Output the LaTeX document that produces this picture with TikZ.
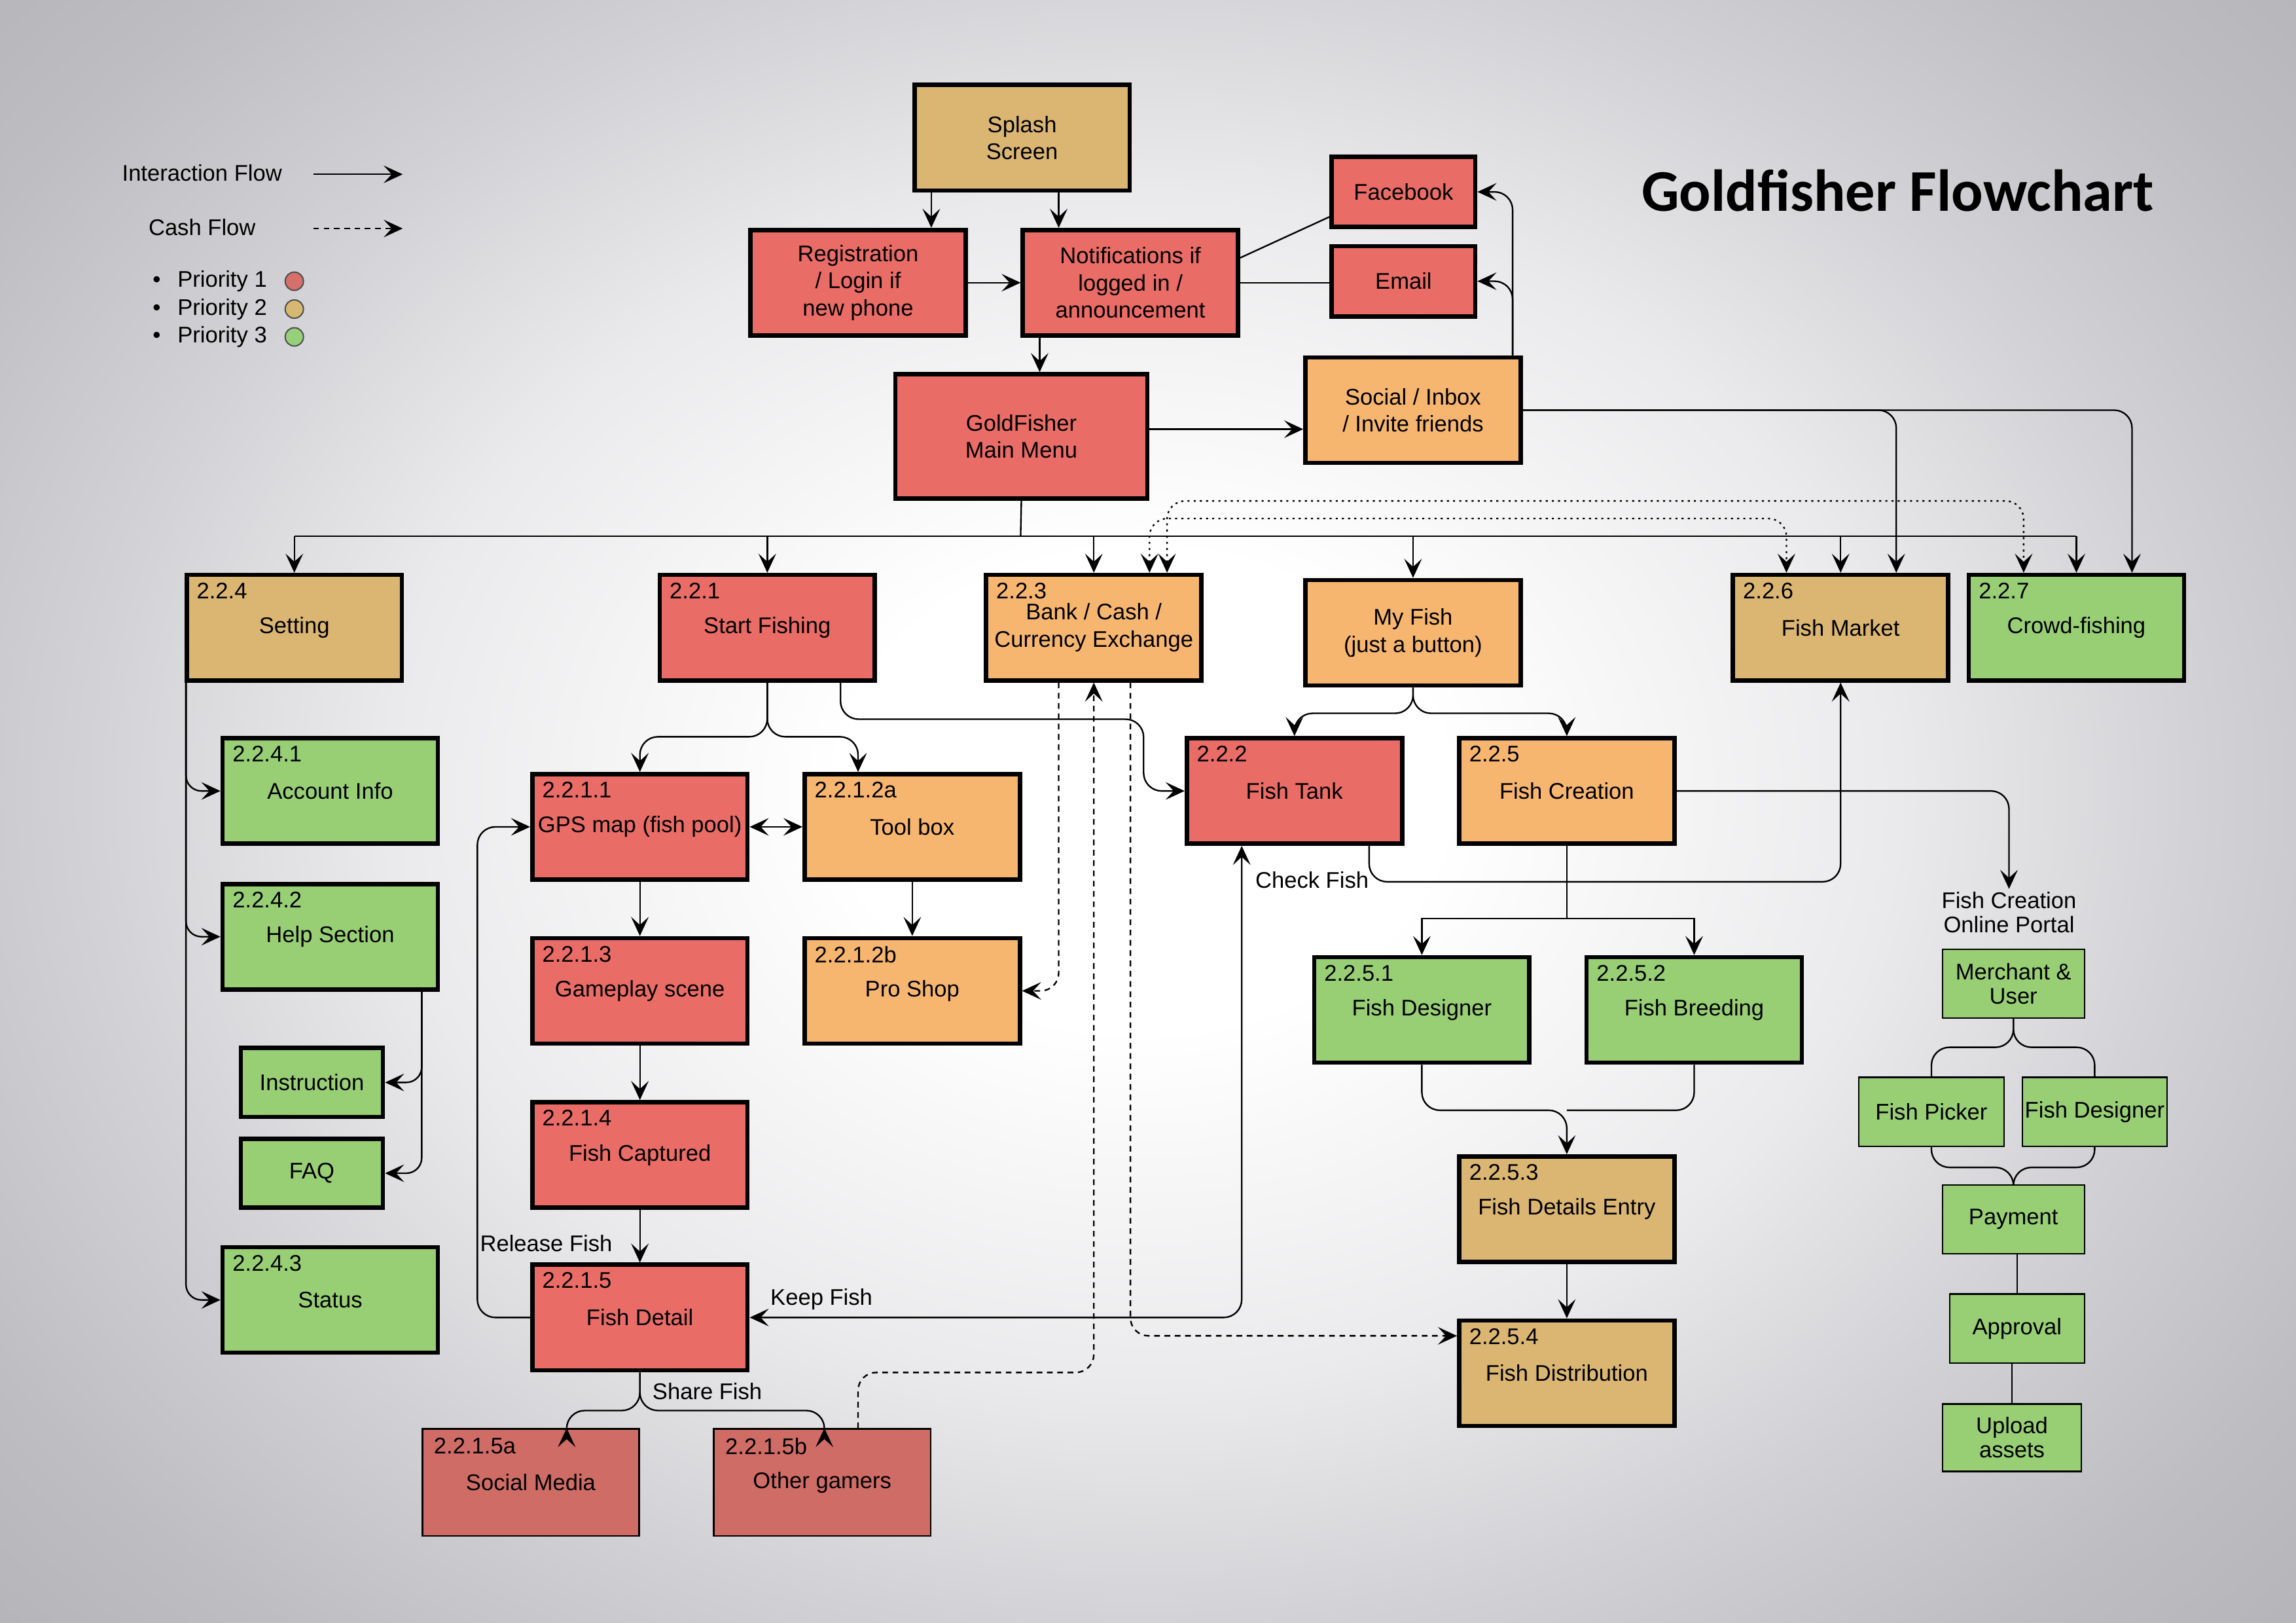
\documentclass[tikz,border=0pt]{standalone}
\usepackage{fontspec}
\setmainfont{Liberation Sans}
\newfontfamily\headfont{Carlito}
\usetikzlibrary{positioning, arrows.meta}

\definecolor{pone}{RGB}{234,108,102}
\definecolor{ptwo}{RGB}{219,182,114}
\definecolor{pmid}{RGB}{247,182,112}
\definecolor{pthree}{RGB}{152,207,117}
\definecolor{psoc}{RGB}{208,108,102}
\definecolor{lgone}{RGB}{214,112,106}
\definecolor{lgtwo}{RGB}{214,184,112}
\definecolor{lgthree}{RGB}{150,208,122}
\definecolor{bgA}{RGB}{234,234,236}
\definecolor{bgB}{RGB}{210,210,214}
\definecolor{bgC}{RGB}{190,190,194}
\definecolor{bgD}{RGB}{176,176,181}

\pgfdeclareradialshading{bgshade}{\pgfpoint{0bp}{0bp}}{color(0bp)=(white); color(6bp)=(white); color(15bp)=(bgA); color(21bp)=(bgB); color(27bp)=(bgC); color(33bp)=(bgD); color(50bp)=(bgD)}

\newcommand\cellfont{\fontsize{8.8}{10.5}\selectfont}
\newcommand\flowtitle{\headfont\bfseries\fontsize{23}{27}\selectfont}

\begin{document}
\begin{tikzpicture}[x=0.2mm, y=-0.2mm,
    >={Stealth[length=2.6mm, width=2.4mm, inset=1.1mm]},
    box/.style={draw, rectangle, line width=1.7pt,
                minimum width=29.4mm, minimum height=14.4mm,
                font=\cellfont, align=center, inner sep=1pt},
    redbox/.style={box, fill=pone},
    tanbox/.style={box, fill=ptwo},
    orbox/.style={box, fill=pmid},
    grbox/.style={box, fill=pthree},
    mini/.style={minimum width=19.6mm, minimum height=9.6mm},
    flat/.style={box, line width=0.6pt, fill=psoc,
                 minimum width=29.6mm, minimum height=14.6mm},
    portal/.style={draw, rectangle, line width=0.6pt, fill=pthree,
                   minimum width=19.4mm, minimum height=9.4mm,
                   font=\cellfont, align=center, inner sep=1pt},
    tag/.style={anchor=north west, inner sep=0pt, font=\cellfont,
                xshift=1.6mm, yshift=-1.3mm},
    lbl/.style={font=\cellfont, inner sep=1pt, align=center},
    dot/.style={circle, draw=black!70, line width=0.5pt,
                minimum size=2.5mm, inner sep=0pt},
    link/.style={line width=0.6pt},
    arrow/.style={->, line width=0.6pt},
    cash/.style={arrow, dash pattern=on 2.2pt off 1.8pt},
    cashdot/.style={<->, line width=0.6pt, dash pattern=on 0.8pt off 1.6pt}]

  % background
  \begin{scope}
    \clip (0,0) rectangle (1568,1108);
    \shade[shading=bgshade] (-80,-140) rectangle (1640,1220);
  \end{scope}
  \useasboundingbox (0,0) rectangle (1568,1108);

  % legend
  \node[lbl] (lint) at (138,118) {Interaction Flow};
  \node[lbl] (lcash) at (138,155) {Cash Flow};
  \coordinate (lia) at (214,119);
  \coordinate (lib) at (275,119);
  \coordinate (lca) at (214,156);
  \coordinate (lcb) at (275,156);
  \draw[arrow] (lia) -- (lib);
  \draw[cash] (lca) -- (lcb);
  \node[lbl, anchor=west, inner sep=0pt] (pr1) at (104,192) {\textbullet\hspace{2.3mm}Priority 1};
  \node[lbl, anchor=west, inner sep=0pt] (pr2) at (104,211) {\textbullet\hspace{2.3mm}Priority 2};
  \node[lbl, anchor=west, inner sep=0pt] (pr3) at (104,230) {\textbullet\hspace{2.3mm}Priority 3};
  \node[dot, fill=lgone] (d1) at (201,192) {};
  \node[dot, fill=lgtwo] (d2) at (201,211) {};
  \node[dot, fill=lgthree] (d3) at (201,230) {};

  \node (title) at (1296,130) {\flowtitle Goldfisher Flowchart};

  % top of the flow
  \node[tanbox] (splash) at (698,94) {Splash\\Screen};
  \node[redbox] (reg) at (586,193) {Registration\\/ Login if\\new phone};
  \node[redbox] (notif) at (772,193) {Notifications if\\logged in /\\announcement};
  \node[redbox, mini] (fb) at (958.5,131) {Facebook};
  \node[redbox, mini, below=2mm of fb] (email) {Email};
  \node[redbox, minimum width=34.4mm, minimum height=17mm] (menu) at (697.5,298) {GoldFisher\\Main Menu};
  \node[orbox] (social) at (965,280) {Social / Inbox\\/ Invite friends};

  \draw[arrow] (636,0 |- splash.south) -- (636,0 |- reg.north);
  \draw[arrow] (723,0 |- splash.south) -- (723,0 |- notif.north);
  \draw[arrow] (reg) -- (notif);
  \draw[link] (notif.east |- 0,176) -- (fb.west |- 0,148);
  \draw[link] (notif.east) -- (notif.east -| email.west);
  \draw[arrow] (710,0 |- notif.south) -- (710,0 |- menu.north);
  \draw[arrow] (menu.east |- 0,293) -- (social.west |- 0,293);
  \draw[arrow, rounded corners=7] (1033,0 |- social.north) |- (fb.east);
  \draw[arrow, rounded corners=7] (1033,0 |- social.north) |- (email.east);

  % main menu row
  \node[tanbox, label={[tag]north west:2.2.4}] (setting) at (201,428.5) {Setting};
  \node[redbox, label={[tag]north west:2.2.1}] (start) at (524,428.5) {Start Fishing};
  \node[orbox, label={[tag]north west:2.2.3}] (bank) at (747,428.5) {Bank / Cash /\\Currency Exchange};
  \node[orbox] (myfish) at (965,432) {My Fish\\(just a button)};
  \node[tanbox, label={[tag]north west:2.2.6}] (market) at (1257,428.5) {Fish Market};
  \node[grbox, label={[tag]north west:2.2.7}] (crowd) at (1418,428.5) {Crowd-fishing};

  \coordinate (bus) at (697,366);
  \draw[link] (menu.south) -- (bus);
  \draw[link] (bus -| setting.north) -- (bus -| crowd.north);
  \foreach \n in {setting, start, bank, myfish, market, crowd}
    \draw[arrow] (bus -| \n.north) -- (\n.north);
  \draw[arrow, rounded corners=7] (social.east |- 0,280) -| (1295,0 |- market.north);
  \draw[arrow, rounded corners=7] (social.east |- 0,280) -| (1456,0 |- crowd.north);
  \draw[cashdot, rounded corners=7] (785,0 |- bank.north) |- (1220,354) -- (1220,0 |- market.north);
  \draw[cashdot, rounded corners=7] (797,0 |- bank.north) |- (1382,342) -- (1382,0 |- crowd.north);

  % setting branch
  \node[grbox, label={[tag]north west:2.2.4.1}] (acc) at (225.5,540) {Account Info};
  \node[grbox, label={[tag]north west:2.2.4.2}] (help) at (225.5,639.5) {Help Section};
  \node[grbox, mini, minimum width=19.4mm, minimum height=9.4mm] (instr) at (213,739) {Instruction};
  \node[grbox, mini, minimum width=19.4mm, minimum height=9.4mm, below=2.4mm of instr] (faq) {FAQ};
  \node[grbox, label={[tag]north west:2.2.4.3}] (status) at (225.5,887.5) {Status};

  \draw[arrow, rounded corners=6] (127,0 |- setting.south) |- (acc.west);
  \draw[arrow, rounded corners=6] (127,0 |- setting.south) |- (help.west);
  \draw[arrow, rounded corners=6] (127,0 |- setting.south) |- (status.west);
  \draw[arrow, rounded corners=6] (288,0 |- help.south) |- (instr.east);
  \draw[arrow, rounded corners=6] (288,0 |- help.south) |- (faq.east);

  % start fishing branch
  \node[redbox, label={[tag]north west:2.2.1.1}] (gps) at (437,564.5) {GPS map (fish pool)};
  \node[orbox, label={[tag]north west:2.2.1.2a}] (tool) at (623,564.5) {Tool box};
  \node[redbox, below=7.4mm of gps, label={[tag]north west:2.2.1.3}] (game) {Gameplay scene};
  \node[orbox, below=7.4mm of tool, label={[tag]north west:2.2.1.2b}] (pro) {Pro Shop};
  \node[redbox, below=7.4mm of game, label={[tag]north west:2.2.1.4}] (capt) {Fish Captured};
  \node[redbox, below=7.2mm of capt, label={[tag]north west:2.2.1.5}] (detail) {Fish Detail};
  \node[flat, label={[tag]north west:2.2.1.5a}] (socmed) at (362.5,1012) {Social Media};
  \node[flat, label={[tag]north west:2.2.1.5b}] (others) at (561.5,1012) {Other gamers};

  \draw[arrow, rounded corners=7] (start.south) |- (gps.north |- 0,503) -- (gps.north);
  \draw[arrow, rounded corners=7] (start.south) |- (586,503) -- (586,0 |- tool.north);
  \draw[<->, line width=0.6pt] (gps) -- (tool);
  \draw[arrow] (gps) -- (game);
  \draw[arrow] (tool) -- (pro);
  \draw[arrow] (game) -- (capt);
  \draw[arrow] (capt) -- (detail);
  \node[lbl] (release) at (373,849) {Release Fish};
  \draw[arrow, rounded corners=7] (detail.west) -| (326,0 |- gps.west) -- (gps.west);
  \draw[arrow, rounded corners=7] (detail.south) |- (387,963) -- (387,0 |- socmed.north);
  \draw[arrow, rounded corners=7] (detail.south) |- (563,963) -- (563,0 |- others.north);
  \node[lbl] (share) at (483,950) {Share Fish};

  % my fish branch
  \node[redbox, label={[tag]north west:2.2.2}] (tank) at (884,540) {Fish Tank};
  \node[orbox, label={[tag]north west:2.2.5}] (create) at (1070,540) {Fish Creation};
  \node[grbox, label={[tag]north west:2.2.5.1}] (designer) at (971,689.5) {Fish Designer};
  \node[grbox, label={[tag]north west:2.2.5.2}] (breed) at (1157,689.5) {Fish Breeding};
  \node[tanbox, label={[tag]north west:2.2.5.3}] (entry) at (1070,825.5) {Fish Details Entry};
  \node[tanbox, below=7.4mm of entry, label={[tag]north west:2.2.5.4}] (distr) {Fish Distribution};

  \draw[arrow, rounded corners=7] (start.south -| 574,0) |- (781,491) |- (tank.west);
  \draw[arrow, rounded corners=7] (myfish.south) |- (tank.north |- 0,487) -- (tank.north);
  \draw[arrow, rounded corners=7] (myfish.south) |- (create.north |- 0,487) -- (create.north);
  \draw[<->, line width=0.6pt, rounded corners=7] (detail.east) -| (848,0 |- tank.south);
  \node[lbl] (keep) at (561,887) {Keep Fish};
  \draw[arrow, rounded corners=7] (935,0 |- tank.south) |- (1257,602) -- (market.south);
  \node[lbl] (check) at (896,601) {Check Fish};
  \draw[arrow] (create.south) |- (designer.north |- 0,627) -- (designer.north);
  \draw[arrow] (create.south) |- (breed.north |- 0,627) -- (breed.north);
  \draw[arrow, rounded corners=7] (designer.south) |- (entry.north |- 0,758) -- (entry.north);
  \draw[link, rounded corners=7] (breed.south) |- (entry.north |- 0,758);
  \draw[arrow] (entry) -- (distr);

  % cash flow from the bank
  \draw[cash, rounded corners=7] (586,0 |- others.north) |- (747,937) -- (747,0 |- bank.south);
  \draw[cash, rounded corners=7] (723,0 |- bank.south) |- (pro.east);
  \draw[cash, rounded corners=7] (772,0 |- bank.south) |- (distr.west |- 0,912);

  % online portal
  \node[lbl] (portalname) at (1372,623) {Fish Creation\\[-1pt]Online Portal};
  \node[portal] (merch) at (1375,671.5) {Merchant \&\\[-1pt]User};
  \node[portal, minimum width=19.8mm] (picker) at (1319,759) {Fish Picker};
  \node[portal, minimum width=19.6mm] (pdesign) at (1430.5,759) {Fish Designer};
  \node[portal] (pay) at (1375,832.5) {Payment};
  \node[portal, minimum width=18.4mm] (appr) at (1377.5,907) {Approval};
  \node[portal, minimum width=19mm, minimum height=9.2mm] (upload) at (1374,981.5) {Upload\\[-1pt]assets};

  \draw[arrow, rounded corners=7] (create.east) -| (portalname.north);
  \draw[link, rounded corners=7] (merch.south) |- (picker.north |- 0,715) -- (picker.north);
  \draw[link, rounded corners=7] (merch.south) |- (pdesign.north |- 0,715) -- (pdesign.north);
  \draw[link, rounded corners=7] (picker.south) |- (pay.north |- 0,797) -- (pay.north);
  \draw[link, rounded corners=7] (pdesign.south) |- (pay.north |- 0,797) -- (pay.north);
  \draw[link] (appr.north |- pay.south) -- (appr.north);
  \draw[link] (upload.north |- appr.south) -- (upload.north);
\end{tikzpicture}
\end{document}
